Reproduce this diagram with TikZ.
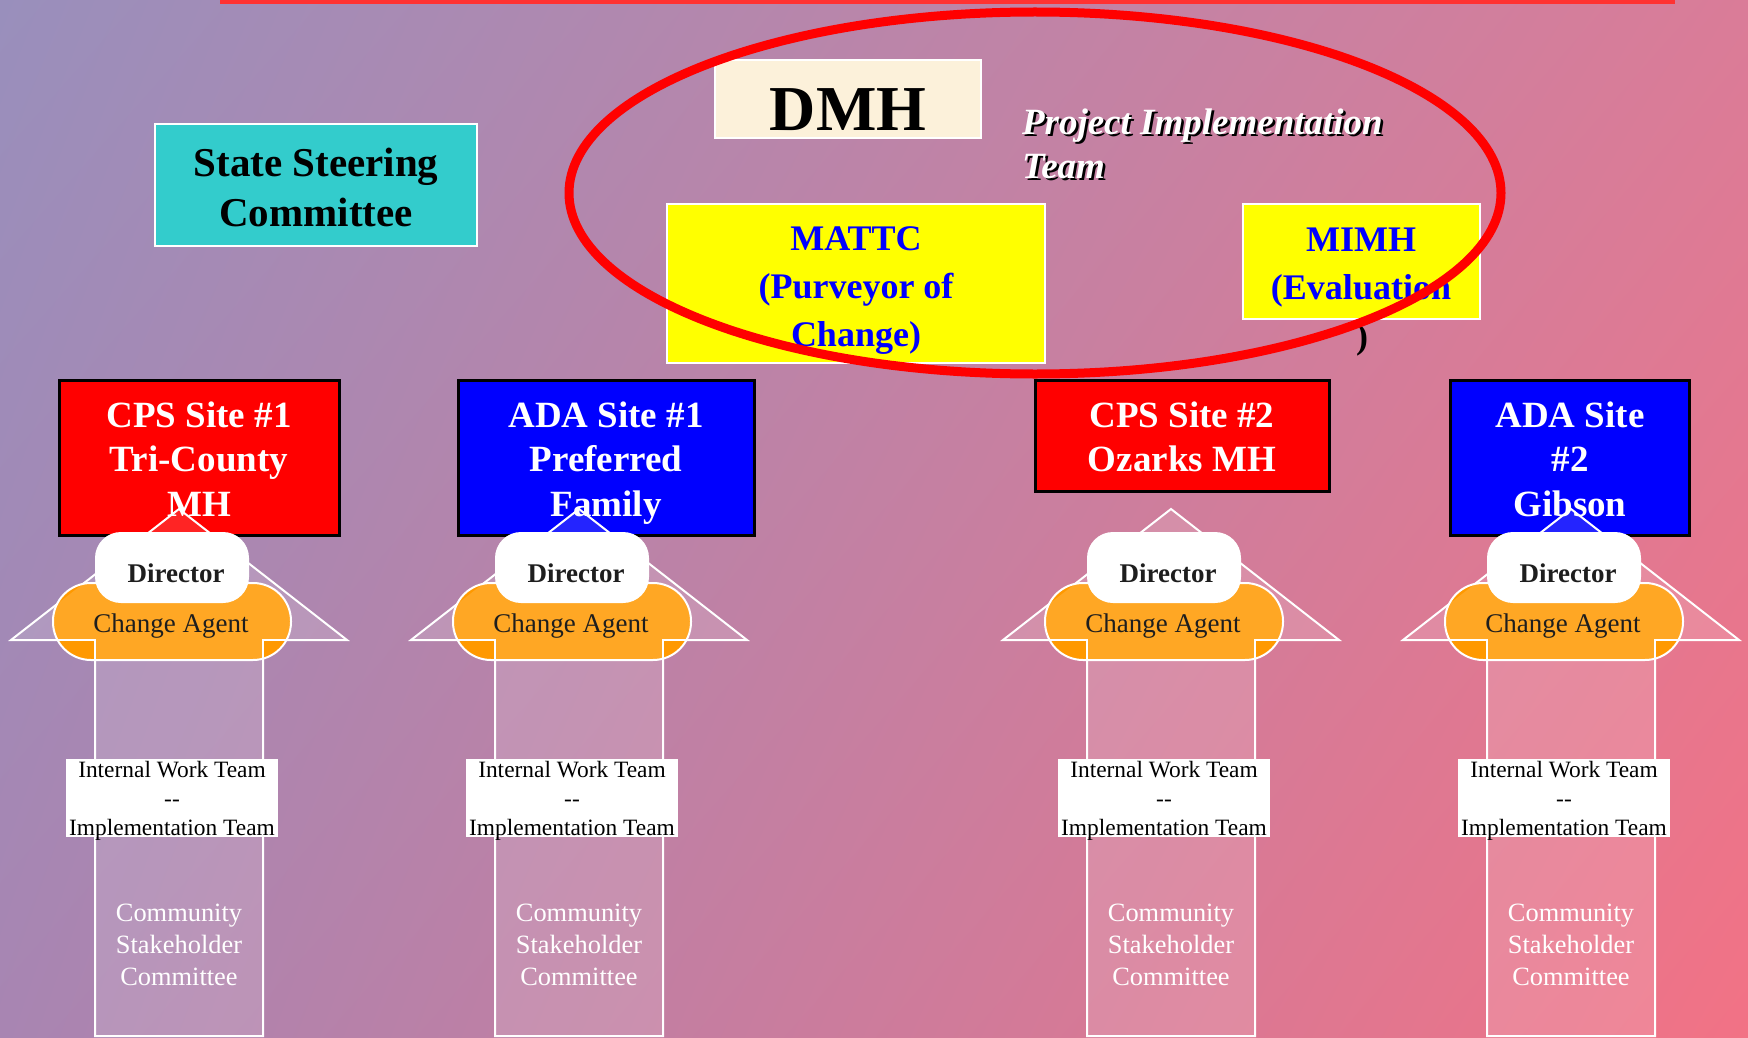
\documentclass[tikz,border=0pt]{standalone}
\usepackage{fontspec}
\setmainfont{Liberation Serif}
\usetikzlibrary{shadings}
\definecolor{bgUL}{RGB}{153,143,188}
\definecolor{bgUR}{RGB}{218,124,152}
\definecolor{bgLL}{RGB}{168,133,178}
\definecolor{bgLR}{RGB}{242,114,133}
\definecolor{topbar}{RGB}{255,50,50}
\definecolor{stateteal}{RGB}{51,204,204}
\definecolor{dmhcream}{RGB}{252,241,218}
\definecolor{ylw}{RGB}{255,255,0}
\definecolor{txtblue}{RGB}{0,0,255}
\definecolor{cpsred}{RGB}{255,0,0}
\definecolor{adablue}{RGB}{0,0,255}
\definecolor{agentorange}{RGB}{255,153,0}
\definecolor{darktext}{RGB}{30,30,30}
\begin{document}
\begin{tikzpicture}[x=1pt,y=-1pt,
  nbox/.style={inner sep=0pt, outer sep=0pt},
  sitebox/.style={nbox, draw=black, line width=3pt},
  whitebox/.style={nbox, draw=white, line width=2pt},
  sitetext/.style={nbox, text=white, align=center, font=\fontsize{37}{44.5}\selectfont\bfseries},
  toptext/.style={nbox, text=txtblue, align=center, font=\fontsize{36}{48}\selectfont\bfseries},
  arrowline/.style={draw=white, line width=2pt},
  arrowfill/.style={fill=white, fill opacity=0.14},
  dirbox/.style={nbox, fill=white, rounded corners=26pt, minimum width=154, minimum height=71},
  agentbox/.style={nbox, fill=agentorange, draw=white, line width=2pt, rounded corners=38pt, minimum width=238, minimum height=77},
  dirtext/.style={nbox, text=darktext, font=\fontsize{27}{32}\selectfont\bfseries},
  agenttext/.style={nbox, text=darktext, font=\fontsize{27}{32}\selectfont},
  iwtbox/.style={nbox, fill=white, minimum width=212, minimum height=78},
  iwttext/.style={nbox, text=black, align=center, font=\fontsize{23.4}{29}\selectfont},
  commtext/.style={nbox, text=white, align=center, font=\fontsize{26.4}{32}\selectfont},
  pittext/.style={nbox, anchor=west, align=left, font=\fontsize{37}{44}\selectfont\bfseries\itshape},
]
\useasboundingbox (0,0) rectangle (1748,1038);
\shade[upper left=bgUL, upper right=bgUR, lower left=bgLL, lower right=bgLR] (0,0) rectangle (1748,1038);
\fill[topbar] (220,0) rectangle (1675,4);

% State Steering Committee
\node[whitebox, fill=stateteal, minimum width=322, minimum height=122] (statebox) at (316,185) {};
\node[nbox, align=center, font=\fontsize{41}{50}\selectfont\bfseries] (state) at (316,191.5) {\strut State Steering\\Committee\strut};

% DMH
\node[whitebox, fill=dmhcream, minimum width=266, minimum height=78] (dmhbox) at (848,99) {};
\node[nbox, font=\fontsize{64}{72}\selectfont\bfseries] (dmh) at (848,110) {DMH};

% Project Implementation Team
\node[pittext, text=black] (pitshadow) at (1024.5,149.9) {\strut Project Implementation\\Team\strut};
\node[pittext, text=white] (pit) at (1022,147.4) {\strut Project Implementation\\Team\strut};

% MATTC and MIMH
\node[whitebox, fill=ylw, minimum width=378, minimum height=159] (mattcbox) at (856,283.5) {};
\node[toptext] (mattc) at (856,288.4) {\strut MATTC\\(Purveyor of\\Change)\strut};
\node[whitebox, fill=ylw, minimum width=237, minimum height=115] (mimhbox) at (1361.5,261.5) {};
\node[toptext] (mimh) at (1361,265.4) {\strut MIMH\\(Evaluation\strut};
\node[nbox, text=black, font=\fontsize{36}{48}\selectfont\bfseries] (mimhparen) at (1362,340) {)};

% red ellipse
\draw[cpsred, line width=9pt] (1035,193) ellipse [x radius=466, y radius=181];

% site boxes
\node[sitebox, fill=cpsred, minimum width=280, minimum height=155] (cps1box) at (199,457.5) {};
\node[sitetext] (cps1) at (199,462.8) {\strut CPS Site \#1\\Tri-County\\MH\strut};
\node[sitebox, fill=adablue, minimum width=296, minimum height=155] (ada1box) at (606,457.5) {};
\node[sitetext] (ada1) at (606,462.8) {\strut ADA Site \#1\\Preferred\\Family\strut};
\node[sitebox, fill=cpsred, minimum width=294, minimum height=111] (cps2box) at (1182,435.5) {};
\node[sitetext] (cps2) at (1182,440.5) {\strut CPS Site \#2\\Ozarks MH\strut};
\node[sitebox, fill=adablue, minimum width=239, minimum height=155] (ada2box) at (1569.5,457.5) {};
\node[sitetext] (ada2) at (1570,462.8) {\strut ADA Site\\\#2\\Gibson\strut};

% site arrows and teams
\foreach \c in {179,579,1171,1571}{
  \draw[arrowline] (\c,509) -- ({\c+168},640) -- ({\c+84},640) -- ({\c+84},1036)
        -- ({\c-84},1036) -- ({\c-84},640) -- ({\c-168},640) -- cycle;
  \node[agentbox] (agent\c) at ({\c-7},621.5) {};
  \fill[arrowfill] (\c,509) -- ({\c+168},640) -- ({\c+84},640) -- ({\c+84},1036)
        -- ({\c-84},1036) -- ({\c-84},640) -- ({\c-168},640) -- cycle;
  \draw[arrowline] ({\c-168},640) -- ({\c-84},640) -- ({\c-84},1036)
        -- ({\c+84},1036) -- ({\c+84},640) -- ({\c+168},640);
  \node[dirbox] (dirbox\c) at ({\c-7},567.5) {};
  \node[dirtext] (dir\c) at ({\c-3},573) {Director};
  \node[agenttext] (agenttxt\c) at ({\c-8},626) {Change Agent};
  \node[iwtbox] (iwtbox\c) at ({\c-7},798) {};
  \node[iwttext] (iwt\c) at ({\c-7},801) {\strut Internal Work Team\\{-}{-}\\Implementation Team\strut};
  \node[commtext] (comm\c) at (\c,947) {\strut Community\\Stakeholder\\Committee\strut};
}
\end{tikzpicture}
\end{document}
